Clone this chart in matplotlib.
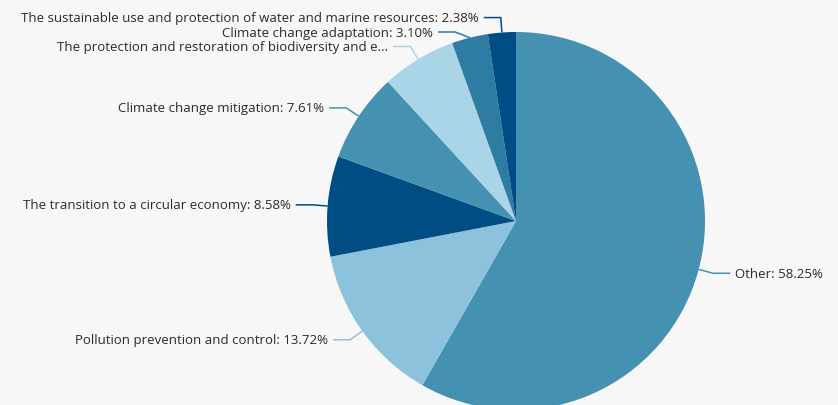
import numpy as np
import matplotlib
matplotlib.use("Agg")
import matplotlib.pyplot as plt

labels = [
    "Other",
    "Pollution prevention and control",
    "The transition to a circular economy",
    "Climate change mitigation",
    "The protection and restoration of biodiversity and ecosystems",
    "Climate change adaptation",
    "The sustainable use and protection of water and marine resources",
]
values = [58.25, 13.72, 8.58, 7.61, 6.36, 3.10, 2.38]
display = [
    "Other: 58.25%",
    "Pollution prevention and control: 13.72%",
    "The transition to a circular economy: 8.58%",
    "Climate change mitigation: 7.61%",
    "The protection and restoration of biodiversity and e...",
    "Climate change adaptation: 3.10%",
    "The sustainable use and protection of water and marine resources: 2.38%",
]
colors = ["#4591b1", "#8cc2db", "#004c84", "#4591b1", "#a9d5e7", "#2e7ca1", "#004c84"]

W, H = 838, 406
cx, cy, R = 516, 222, 189
bg = "#f7f7f7"

fig = plt.figure(figsize=(W / 100, H / 100), dpi=100, facecolor=bg)
ax = fig.add_axes([0, 0, 1, 1])
ax.set_facecolor(bg)

# y axis inverted (pixel coords): startangle=-90 + counterclock => visual clockwise from top
wedges, _ = ax.pie(values, colors=colors, startangle=-90, counterclock=True,
                   center=(cx, cy), radius=R, wedgeprops=dict(linewidth=0))
ax.set_xlim(0, W)
ax.set_ylim(H, 0)
ax.set_aspect("equal")
ax.axis("off")

# elbow overrides (layout adjustments for crowded labels)
elbow_override = {5: (455, 33)}
total = sum(values)
cum = 0
for i, v in enumerate(values):
    mid = (cum + v / 2) / total * 360.0  # degrees clockwise from top
    cum += v
    t = np.deg2rad(mid)
    dx, dy = np.sin(t), -np.cos(t)
    ex, ey = cx + R * dx, cy + R * dy
    if i in elbow_override:
        bx, by = elbow_override[i]
    else:
        bx, by = ex + 15 * dx, ey + 15 * dy
    side = 1 if dx > 0 else -1
    hx = bx + side * 17
    ax.plot([ex, bx, hx], [ey, by, by], color=colors[i], lw=1.1, solid_capstyle="butt")
    ax.text(hx + side * 5, by, display[i], ha="left" if side > 0 else "right",
            va="center", fontsize=9.5, color="#2b2b2b", family=["Open Sans", "DejaVu Sans"])

fig.savefig("out.png", dpi=100, facecolor=bg)
